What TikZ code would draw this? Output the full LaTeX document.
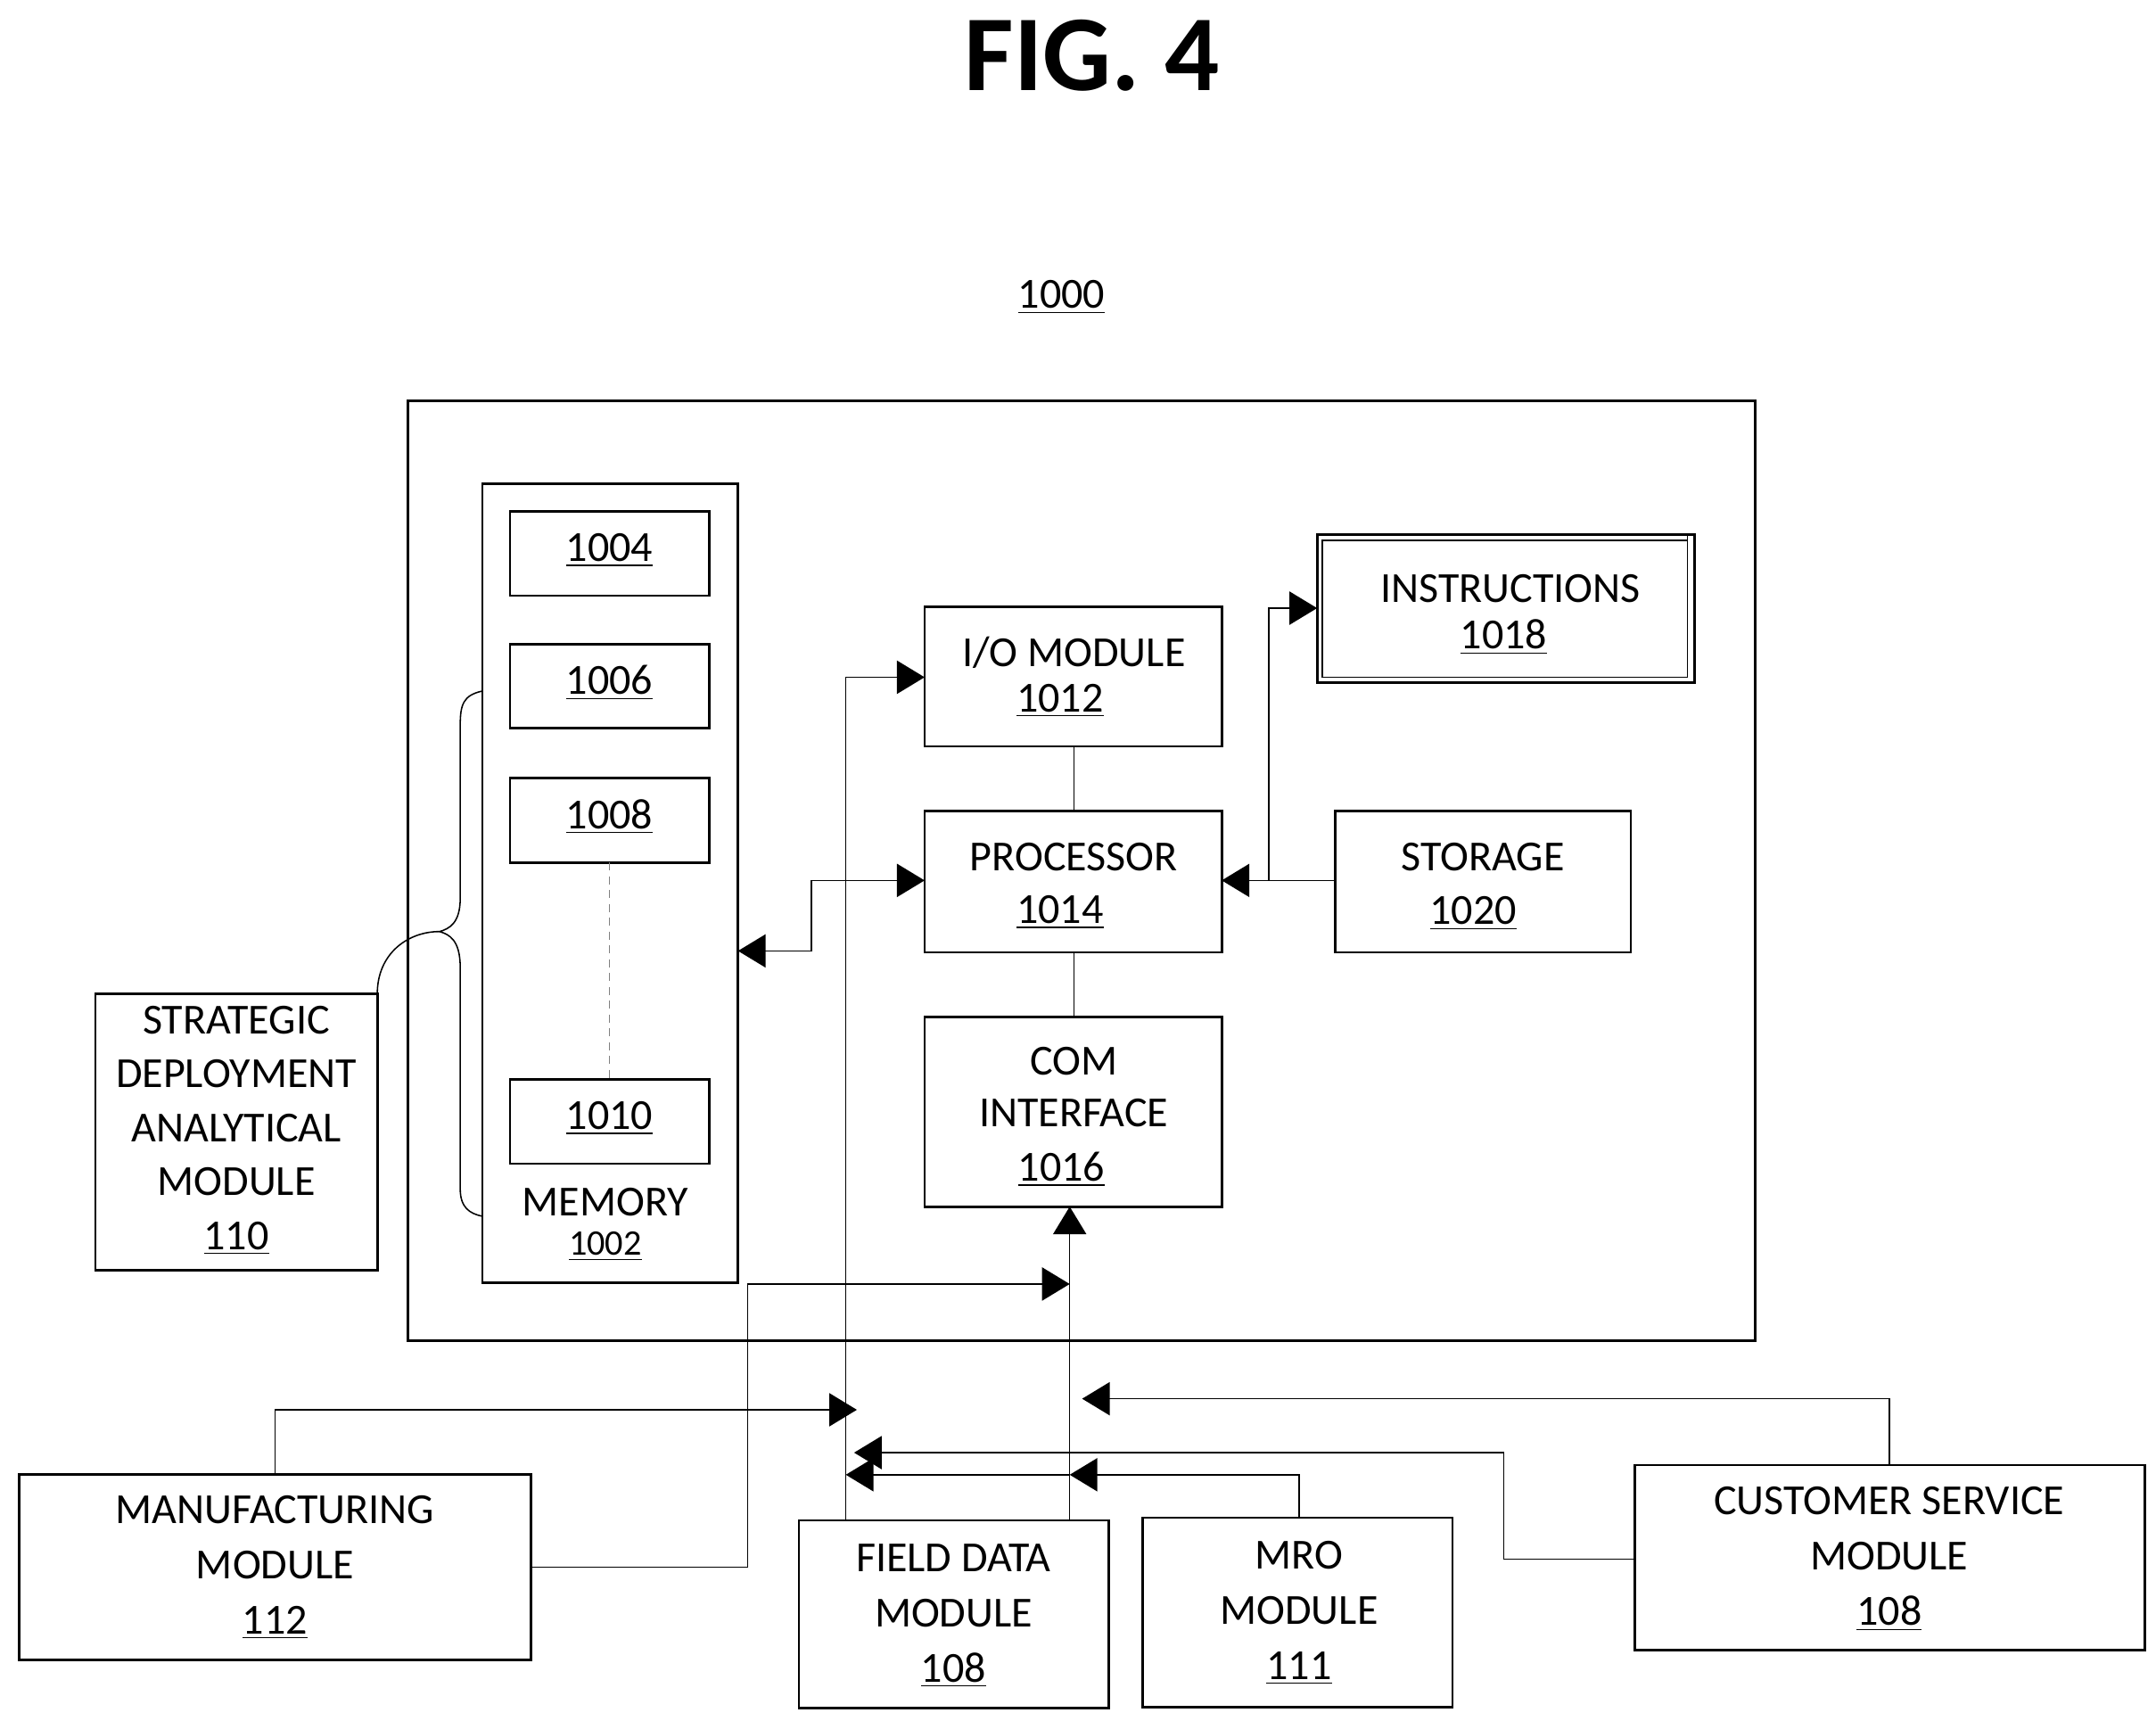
\documentclass[tikz,border=0pt]{standalone}
\usepackage{fontspec}
\setmainfont{Carlito}
\usetikzlibrary{arrows.meta}
\begin{document}
\begin{tikzpicture}[x=0.5pt,y=-0.5pt,
 box/.style={draw,line width=0.9pt,inner sep=0},
 txt/.style={font=\fontsize{15.5}{18}\selectfont,inner sep=0},
 num/.style={font=\fontsize{15.5}{18}\selectfont,inner sep=0},
 con/.style={line width=0.5pt},
 arr/.style={con,-{Triangle[length=10pt,width=12pt]}},
 barr/.style={con,{Triangle[length=10pt,width=12pt]}-{Triangle[length=10pt,width=12pt]}}]
\useasboundingbox (0,0) rectangle (1560,1245);
\node[font=\bfseries\fontsize{39}{44}\selectfont] (fig) at (790,40) {FIG. 4};
\node[num] (n1000) at (768,215) {\underline{1000}};
\draw[box] (295,290) rectangle (1270,970);
\coordinate (outer) at (295,290);
% memory
\draw[box] (349,350) rectangle (534,928);
\node[txt] (memt) at (438,870) {MEMORY};
\node[font=\fontsize{13}{15}\selectfont,inner sep=0] (memn) at (438,902) {\underline{1002}};
\foreach \n/\y in {1004/370,1006/466,1008/563,1010/781}{
  \draw[box] (369,\y) rectangle (513,\y+61);
  \node[num] (b\n) at (441,\y+28) {\underline{\n}};
}
\coordinate (m8) at (441,624); \coordinate (m10) at (441,781);
\draw[con,densely dashed,gray] (m8) -- (m10);
% central
\draw[box] (669,439) rectangle (884,540);
\node[txt] (io1) at (777,472) {I/O MODULE};
\node[num] (io2) at (767,507) {\underline{1012}};
\draw[box] (669,587) rectangle (884,689);
\node[txt] (pr1) at (777,620) {PROCESSOR};
\node[num] (pr2) at (767,660) {\underline{1014}};
\draw[box] (669,736) rectangle (884,873);
\node[txt] (cm1) at (777,768) {COM};
\node[txt] (cm2) at (777,805) {INTERFACE};
\node[num] (cm3) at (768,846) {\underline{1016}};
\draw[con] (777,540) -- (777,587);
\draw[con] (777,689) -- (777,736);
% instructions
\draw[box] (953,387) rectangle (1226,494);
\draw[line width=0.6pt] (957,391) rectangle (1221,490);
\draw[line width=0.6pt] (953,387) -- (1221,387) (1221,387)--(1221,490);
\node[txt] (in1) at (1093,426) {INSTRUCTIONS};
\node[num] (in2) at (1088,461) {\underline{1018}};
% storage
\draw[box] (966,587) rectangle (1180,689);
\node[txt] (st1) at (1073,620) {STORAGE};
\node[num] (st2) at (1066,661) {\underline{1020}};
\draw[arr] (966,637) -- (884,637);
\draw[arr] (918,637) -- (918,440) -- (953,440);
\draw[barr] (534,688) -- (587,688) -- (587,637) -- (669,637);
% SDA
\draw[box] (69,719) rectangle (273,919);
\node[txt,align=center] (sda) at (171,818) {STRATEGIC\\[1.5pt]DEPLOYMENT\\[1.5pt]ANALYTICAL\\[1.5pt]MODULE\\[1.5pt]\underline{110}};
\draw[con] (349,500) .. controls (335,503) and (333,510) .. (333,525) -- (333,650) .. controls (333,668) and (325,672) .. (318,674)
 .. controls (325,676) and (333,680) .. (333,700) -- (333,860) .. controls (333,874) and (340,878) .. (349,880);
\draw[con] (273,719) .. controls (273,690) and (295,674) .. (318,674);
% bottom modules
\draw[box] (14,1067) rectangle (384,1201);
\node[txt,align=center] (man) at (199,1134) {MANUFACTURING\\[2pt]MODULE\\[2pt]\underline{112}};
\draw[box] (578,1100) rectangle (802,1236);
\node[txt,align=center] (fd) at (690,1169) {FIELD DATA\\[2pt]MODULE\\[2pt]\underline{108}};
\draw[box] (827,1098) rectangle (1051,1235);
\node[txt,align=center] (mro) at (940,1167) {MRO\\[2pt]MODULE\\[2pt]\underline{111}};
\draw[box] (1183,1060) rectangle (1552,1194);
\node[txt,align=center] (cs) at (1367,1128) {CUSTOMER SERVICE\\[2pt]MODULE\\[2pt]\underline{108}};
% connectors
\draw[arr] (612,1100) -- (612,490) -- (669,490);
\draw[arr] (774,1100) -- (774,873);
\draw[arr] (199,1067) -- (199,1020) -- (620,1020);
\draw[arr] (384,1134) -- (541,1134) -- (541,929) -- (774,929);
\draw[arr] (940,1098) -- (940,1067) -- (774,1067);
\draw[arr] (774,1067) -- (612,1067);
\draw[arr] (1367,1060) -- (1367,1012) -- (783,1012);
\draw[arr] (1183,1128) -- (1088,1128) -- (1088,1051) -- (618,1051);
\end{tikzpicture}
\end{document}
